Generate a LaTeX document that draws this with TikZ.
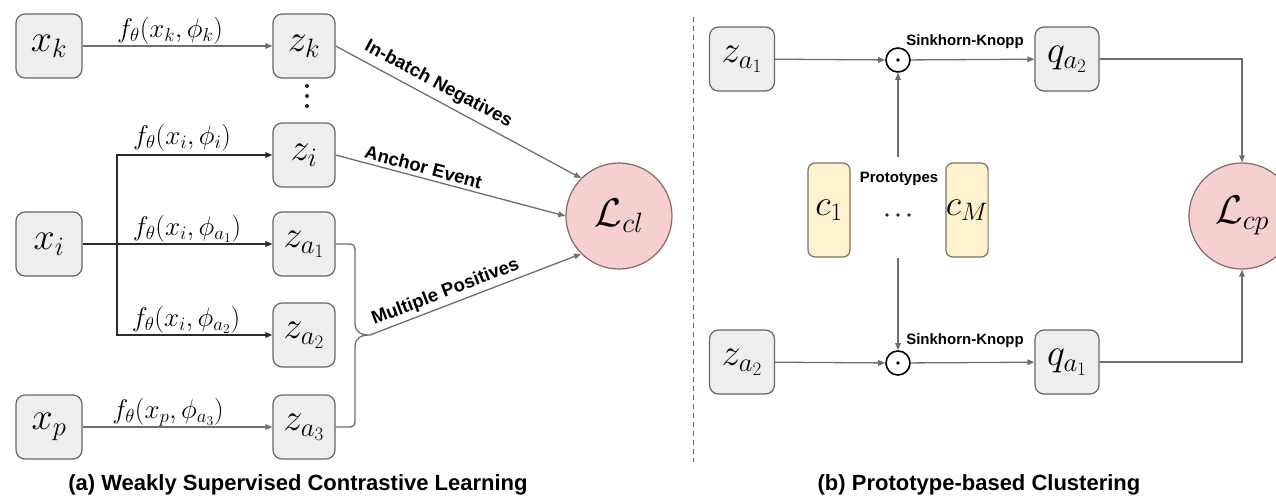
\RequirePackage{fix-cm}
\documentclass[tikz,border=0pt]{standalone}
\usepackage{fontspec}
\setsansfont{Liberation Sans}
\usetikzlibrary{arrows.meta}

\definecolor{boxfill}{HTML}{EEEEEE}
\definecolor{boxline}{HTML}{666666}
\definecolor{protofill}{HTML}{FFF2CC}
\definecolor{protoline}{HTML}{7A7262}
\definecolor{lossfill}{HTML}{F6D0D0}
\definecolor{lossline}{HTML}{8A6666}
\definecolor{wirecol}{HTML}{6E6E6E}
\definecolor{darkwire}{HTML}{2A2A2A}

\tikzset{
  mbox/.style={draw=boxline, fill=boxfill, rounded corners=9pt, line width=1.2pt,
    minimum width=62pt, minimum height=64pt, inner sep=0pt,
    font=\fontsize{38}{40}\selectfont},
  xbox/.style={mbox, minimum width=66pt},
  protobox/.style={draw=protoline, fill=protofill, rounded corners=7pt, line width=1.2pt,
    minimum width=42pt, minimum height=94pt, inner sep=0pt,
    font=\fontsize{36}{38}\selectfont},
  loss/.style={circle, draw=lossline, fill=lossfill, line width=1.2pt,
    minimum size=106pt, inner sep=0pt, font=\fontsize{40}{44}\selectfont},
  odot/.style={circle, draw=black, line width=1.6pt, minimum size=24pt, inner sep=0pt},
  wire/.style={draw=wirecol, line width=1.3pt},
  arr/.style={wire, -{Triangle[length=7pt,width=5.5pt]}},
  xwire/.style={draw=darkwire, line width=1.6pt},
  xarr/.style={xwire, -{Triangle[length=7pt,width=5.5pt]}},
  flabel/.style={font=\fontsize{27}{30}\selectfont, inner sep=0pt},
  tag/.style={font=\sffamily\bfseries\fontsize{18.5}{20}\selectfont, inner sep=3.5pt},
  smalltag/.style={font=\sffamily\bfseries\fontsize{15}{17}\selectfont, inner sep=0pt},
  caption/.style={font=\sffamily\bfseries\fontsize{22}{24}\selectfont, inner sep=0pt},
  divider/.style={draw=black!60, line width=1pt, dash pattern=on 5pt off 4pt},
}

\begin{document}
\begin{tikzpicture}[x=1pt, y=-1pt]
\useasboundingbox (0,0) rectangle (1276,496);

% ---------- (a) weakly supervised contrastive learning ----------
\node[xbox] (xk) at (49,46)  {$x_k$};
\node[xbox] (xi) at (49,244) {$x_i$};
\node[xbox] (xp) at (49,427) {$x_p$};

\node[mbox] (zk)  at (304,46)  {$z_k$};
\node[mbox] (zi)  at (304,155) {$z_i$};
\node[mbox] (za1) at (304,244) {$z_{a_1}$};
\node[mbox] (za2) at (304,335) {$z_{a_2}$};
\node[mbox] (za3) at (304,427) {$z_{a_3}$};

\node[loss] (Lcl) at (619,216) {$\mathcal{L}_{cl}$};

% vertical ellipsis between z_k and z_i
\fill[black!85] (307,86) circle (2) (307,96) circle (2) (307,106) circle (2);

% encoder arrows
\coordinate (split) at (117,244);
\draw[arr] (xk) -- (zk);
\draw[xwire] (xi.east) -- (split);
\draw[xarr] (split) -- (za1.west);
\draw[xarr] (split) |- (zi.west);
\draw[xarr] (split) |- (za2.west);
\draw[arr] (xp) -- (za3);

\node[flabel] (fk)  at (170,31)  {$f_\theta(x_k,\phi_k)$};
\node[flabel] (fi)  at (182,138) {$f_\theta(x_i,\phi_i)$};
\node[flabel] (fa1) at (187,229) {$f_\theta(x_i,\phi_{a_1})$};
\node[flabel] (fa2) at (186,320) {$f_\theta(x_i,\phi_{a_2})$};
\node[flabel] (fa3) at (168,412) {$f_\theta(x_p,\phi_{a_3})$};

% links into the contrastive loss
\draw[arr] (zk.east) -- node[tag, sloped, above, pos=0.39, yshift=2pt] (tneg) {In-batch Negatives} (Lcl.135);
\draw[arr] (zi.east) -- node[tag, sloped, above, pos=0.37] (tanc) {Anchor Event} (Lcl.west);

% brace gathering the positives
\coordinate (tip) at (370,335);
\draw[wire] (za1.east) -- (345,244) .. controls (355,244) .. (355,254) -- (355,323)
  .. controls (355,333) and (362,335) .. (tip)
  .. controls (362,335) and (355,337) .. (355,347) -- (355,417)
  .. controls (355,427) .. (345,427) -- (za3.east);
\draw[arr] (tip) -- node[tag, sloped, above, pos=0.38] (tpos) {Multiple Positives} (Lcl.south west);

\node[caption] (capa) at (298,485) {(a) Weakly Supervised Contrastive Learning};

% divider
\draw[divider] (693,17) -- (693,462);

% ---------- (b) prototype-based clustering ----------
\node[mbox, minimum width=65pt] (za1r) at (742,59)  {$z_{a_1}$};
\node[mbox, minimum width=65pt] (za2r) at (742,362) {$z_{a_2}$};

\node[odot] (o1) at (898,60)  {};
\node[odot] (o2) at (898,363) {};
\fill (o1.center) circle (1.8);
\fill (o2.center) circle (1.8);

\node[mbox, minimum width=64pt] (qa2) at (1067,59)  {$q_{a_2}$};
\node[mbox, minimum width=64pt] (qa1) at (1067,362) {$q_{a_1}$};

\node[protobox] (c1) at (829,210) {$c_1$};
\node[protobox] (cM) at (967,210) {$c_M$};
\node[smalltag] (proto) at (899,179) {Prototypes};
\fill[black!85] (887,215) circle (1.8) (898,215) circle (1.8) (909,215) circle (1.8);

\node[loss] (Lcp) at (1242,216) {$\mathcal{L}_{cp}$};

\coordinate (ptop) at (898,157);
\coordinate (pbot) at (898,258);

\draw[arr] (za1r) -- (o1);
\draw[arr] (o1) -- (qa2);
\draw[arr] (ptop) -- (o1.south);
\draw[arr] (za2r) -- (o2);
\draw[arr] (o2) -- (qa1);
\draw[arr] (pbot) -- (o2.north);

\node[smalltag] (sk1) at (965,42)  {Sinkhorn-Knopp};
\node[smalltag] (sk2) at (965,341) {Sinkhorn-Knopp};

\draw[arr] (qa2.east) -| (Lcp.north);
\draw[arr] (qa1.east) -| (Lcp.south);

\node[caption] (capb) at (979,485) {(b) Prototype-based Clustering};
\end{tikzpicture}
\end{document}
